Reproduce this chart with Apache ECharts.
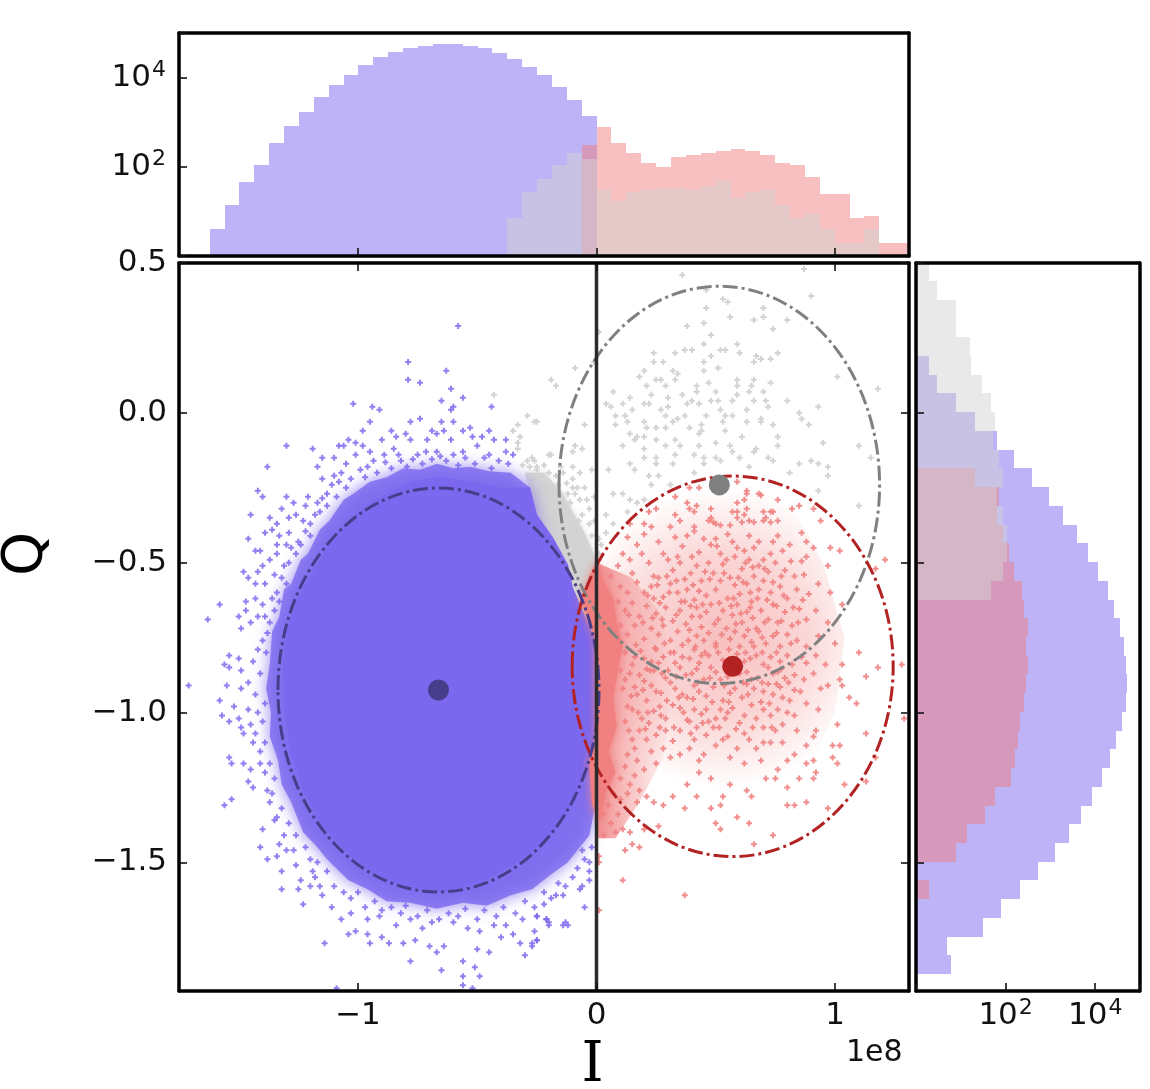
<!DOCTYPE html>
<html><head><meta charset="utf-8">
<style>html,body{margin:0;padding:0;background:#fff}#c{width:1150px;height:1089px}</style>
<script src="https://cdn.jsdelivr.net/npm/echarts@6/dist/echarts.min.js"></script>
</head><body><div id="c"></div>
<script>
// ---- histogram of I (top panel): counts per bin, first bin edge + bin width
const iBinWidth = 0.0624;
const iBlueStart = -1.622;
const iBlueCounts = [4,14,45,113,339,847,1690,3800,7080,11700,19200,29000,38900,48000,53200,59000,59000,53200,48000,35700,26200,17700,11700,6370,3200,1400];
const iGreyStart = -0.374;
const iGreyCounts = [7,27,55,113,206,151,30,17,27,30,33,33,30,37,51,20,27,30,14,7,9,4,2,2,4];
const iRedStart = -0.062;
const iRedCounts = [312,776,339,206,125,102,170,186,206,229,254,229,186,125,113,61,25,25,7,8,2,2];
// ---- histogram of Q (right panel): first bin top edge + bin width
const qBinWidth = 0.0625;
const qGreyStart = 0.502;
const qGreyCounts = [2,3,8,8,16,17,29,47,57,52,70,86,64,86,105,105,86,47];
const qBlueStart = 0.1895;
const qBlueCounts = [2,3,8,21,64,156,387,945,1900,3850,7000,11500,19200,25700,35000,43000,47700,52100,47700,38800,28500,21300,14100,8600,4700,2590,1290,526,213,79,32,5,6];
const qRedStart = -0.1855;
const qRedCounts = [21,71,64,86,117,156,236,261,321,290,321,290,261,213,192,159,129,58,35,14,8,0,2];
// ---- means and 2-sigma ellipses [I, Q, radius I, radius Q]
const blueEllipse = [-0.6625,-0.925,0.673,0.674];
const redEllipse = [0.571,-0.846,0.673,0.635];
const greyEllipse = [0.515,-0.2405,0.672,0.663];
const blueMean = [-0.6625,-0.925];
const redMean = [0.571,-0.846];
const greyMean = [0.515,-0.2405];
const zeroLine = [[0,0.5],[0,-1.93]];
// ---- regions too dense to resolve into single points: outline
const blueCore = [[-.665,-.213],[-.53,-.229],[-.392,-.249],[-.279,-.249],[-.249,-.34],[-.182,-.416],[-.119,-.507],[-.099,-.583],[-.019,-.73],[0,-.757],[0,-1.175],[-.019,-1.201],[-.069,-1.235],[-.111,-1.315],[-.208,-1.425],[-.333,-1.501],[-.488,-1.569],[-.644,-1.599],[-.782,-1.585],[-.92,-1.549],[-1.046,-1.469],[-1.159,-1.369],[-1.231,-1.258],[-1.285,-1.125],[-1.306,-1.001],[-1.315,-.834],[-1.298,-.724],[-1.277,-.674],[-1.231,-.583],[-1.172,-.507],[-1.088,-.396],[-.979,-.316],[-.866,-.263],[-.769,-.229]];
const blueFringe = [[-.36,-.2],[-.45,-.195],[-.53,-.18],[-.6,-.185],[-.669,-.17],[-.74,-.19],[-.81,-.185],[-.88,-.215],[-.95,-.23],[-1.02,-.27],[-1.06,-.29],[-1.12,-.36],[-1.16,-.39],[-1.21,-.47],[-1.24,-.49],[-1.28,-.57],[-1.31,-.59],[-1.33,-.68],[-1.36,-.73],[-1.37,-.84],[-1.385,-.92],[-1.365,-1.0],[-1.37,-1.08],[-1.335,-1.16],[-1.32,-1.24],[-1.28,-1.3],[-1.23,-1.4],[-1.17,-1.45],[-1.13,-1.49],[-1.04,-1.56],[-.96,-1.59],[-.88,-1.63],[-.78,-1.635],[-.67,-1.655],[-.56,-1.635],[-.46,-1.645],[-.36,-1.61],[-.27,-1.59],[-.19,-1.54],[-.12,-1.5],[-.03,-1.41],[0,-1.29],[0,-1.175],[-.279,-.249]];
const greyWedge = [[-.3,-.2],[-.22,-.2],[-.14,-.27],[-.1,-.33],[-.05,-.4],[0,-.49],[0,-.757],[-.027,-.707],[-.111,-.573],[-.182,-.423],[-.249,-.34]];
const redBand = [[0,-.49],[.03,-.56],[.07,-.62],[.085,-.7],[.11,-.78],[.09,-.86],[.07,-.95],[.085,-1.05],[.05,-1.13],[.08,-1.2],[.04,-1.26],[.015,-1.368],[-.019,-1.308],[-.031,-1.158],[-.006,-1.108],[-.006,-.757],[-.069,-.624]];
const redHaze = [[.12,-.3],[.3,-.24],[.55,-.2],[.8,-.28],[.95,-.5],[1.04,-.75],[1.0,-1.0],[.88,-1.2],[.6,-1.3],[.35,-1.3],[.12,-1.2],[.02,-.9],[.02,-.55]];
const redStrip = [[0,-.5],[.15,-.55],[.28,-.68],[.32,-.9],[.28,-1.15],[.18,-1.3],[.08,-1.42],[0,-1.42]];
// ---- resolved single shots
const bluePoints = [[-.58,.29],[-.79,.17],[-.63,.14],[-.79,.11],[-.74,.1],[-.61,.08],[-.56,.05],[-.65,.04],[-1.02,.03],[-.94,.02],[-.6,.02],[-.91,.01],[-.61,.01],[-.44,.02],[-.95,-.03],[-.98,-.06],[-.65,-.03],[-.74,-.02],[-.78,-.03],[-.6,-.03],[-.56,-.06],[-.53,-.05],[-.45,-.06],[-.64,-.06],[-.69,-.06],[-.67,-.07],[-.86,-.06],[-.84,-.08],[-.8,-.07],[-1.08,-.11],[-1.04,-.09],[-1.01,-.1],[-1.3,-.11],[-1.19,-.12],[-1.06,-.11],[-.98,-.11],[-.9,-.09],[-.48,-.08],[-.43,-.09],[-.38,-.09],[-.52,-.08],[-.61,-.09],[-.71,-.09],[-.78,-.09],[-.85,-.12],[-.89,-.14],[-.95,-.13],[-1.01,-.14],[-1.15,-.15],[-1.1,-.15],[-1.38,-.18],[-1.17,-.18],[-1.05,-.17],[-.96,-.18],[-1.42,-.26],[-1.4,-.28],[-1.3,-.28],[-1.1,-.21],[-1.15,-.22],[-1.08,-.23],[-.35,-.14],[-.38,-.13],[-.45,-.14],[-.5,-.11],[-.56,-.13],[-.67,-.13],[-.75,-.14],[-.82,-.16],[-1.27,-.3],[-1.21,-.28],[-1.17,-.3],[-1.32,-.32],[-1.45,-.34],[-1.37,-.35],[-1.26,-.34],[-1.22,-.31],[-1.13,-.27],[-1.11,-.24],[-1.29,-.35],[-1.39,-.4],[-1.36,-.39],[-1.34,-.37],[-1.46,-.42],[-1.43,-.46],[-1.41,-.46],[-1.34,-.44],[-1.33,-.41],[-1.29,-.4],[-1.23,-.36],[-1.2,-.37],[-1.16,-.33],[-1.48,-.53],[-1.46,-.55],[-1.42,-.53],[-1.4,-.51],[-1.37,-.49],[-1.34,-.47],[-1.31,-.51],[-1.28,-.45],[-1.24,-.44],[-1.43,-.57],[-1.39,-.57],[-1.35,-.54],[-1.3,-.57],[-1.47,-.63],[-1.43,-.62],[-1.4,-.64],[-1.58,-.64],[-1.63,-.69],[-1.5,-.68],[-1.47,-.66],[-1.49,-.72],[-1.45,-.7],[-1.42,-.68],[-1.39,-.68],[-1.35,-.66],[-1.33,-.63],
[-1.54,-.81],[-1.5,-.82],[-1.56,-.84],[-1.54,-.85],[-1.71,-.91],[-1.55,-.91],[-1.49,-.86],[-1.49,-.92],[-1.58,-.96],[-1.52,-.98],[-1.57,-1.01],[-1.46,-.99],[-1.54,-1.03],[-1.5,-1.02],[-1.49,-1.05],[-1.45,-1.04],[-1.48,-1.07],[-1.44,-1.1],[-1.54,-1.15],[-1.53,-1.17],[-1.48,-1.17],[-1.45,-1.19],[-1.41,-1.17],[-1.46,-1.23],[-1.44,-1.25],[-1.53,-1.29],[-1.56,-1.31],[-1.38,-1.26],[-1.37,-1.3],[-1.4,-1.39],[-1.35,-1.36],[-1.41,-1.45],[-1.38,-1.49],[-1.34,-1.48],[-1.3,-1.46],[-1.33,-1.44],[-1.32,-1.53],[-1.32,-1.59],[-1.26,-1.51],[-1.25,-1.59],[-1.24,-1.56],[-1.23,-1.64],[-1.2,-1.58],[-1.19,-1.53],[-1.15,-1.61],[-1.16,-1.58],[-1.14,-1.77],[-1.11,-1.65],[-1.07,-1.69],[-1.04,-1.74],[-1.01,-1.73],[-.95,-1.77],[-.96,-1.74],[-.9,-1.75],[-.87,-1.77],[-.81,-1.77],[-.78,-1.83],[-.76,-1.76],[-.7,-1.78],[-.67,-1.8],[-.65,-1.86],[-.64,-1.78],[-.56,-1.83],[-.56,-1.88],[-.56,-1.91],[-.52,-1.92],[-.49,-1.88],[-.51,-1.85],[-.5,-1.79],[-.45,-1.8],[-.32,-1.77],[-.3,-1.81],[-.27,-1.78],[-.25,-1.76],[-.21,-1.69],[-.13,-1.7],[-.35,-1.74],[-.4,-1.75],[-1.09,-1.92],[-.71,-1.93],[-1.03,-1.67],[-.96,-1.69],[-.91,-1.68],[-.84,-1.71],[-.78,-1.69],[-.73,-1.72],[-.69,-1.7],[-.6,-1.7],[-.54,-1.72],[-.49,-1.73],[-.43,-1.71],[-.38,-1.71],[-.31,-1.69],[-.25,-1.68],[-.2,-1.7],
[-.13,-1.58],[-.06,-1.58],[-.05,-1.65],[-.14,-1.61],[-.17,-1.61],[-.22,-1.64],[-.25,-1.68],[-.21,-1.69],[-.2,-1.71],[-.14,-1.71],[-.12,-1.71],[-.26,-1.73],[-.25,-1.76],[-.27,-1.77],[-.03,-1.53],[-.03,-1.56],[-.07,-1.59],
[-.37,-.17],[-.41,-.16],[-.44,-.185],[-.47,-.15],[-.51,-.17],[-.55,-.15],[-.58,-.175],[-.6,-.14],[-.63,-.16],[-.655,-.145],[-.69,-.155],[-.715,-.13],[-.73,-.17],[-.77,-.155],[-.795,-.18],[-.83,-.14],[-.86,-.185],[-.885,-.165],[-.92,-.2],[-.935,-.16],[-.97,-.215],[-.99,-.19],[-1.03,-.22],[-1.05,-.25],[-1.07,-.2],[-1.09,-.28],[-1.13,-.31],[-1.15,-.285],[-1.18,-.34],[-1.2,-.41],[-1.22,-.395],[-1.25,-.43],[-1.26,-.47],[-1.29,-.5],[-1.3,-.44],[-1.32,-.55],[-1.34,-.6],[-1.36,-.62],[-1.37,-.7],[-1.38,-.735],[-1.4,-.76],[-1.42,-.79],[-1.385,-.8],[-1.44,-.83],[-1.41,-.87],[-1.46,-.9],[-1.43,-.94],[-1.39,-.97],[-1.42,-1.0],[-1.4,-1.03],[-1.43,-1.07],[-1.39,-1.1],[-1.41,-1.13],[-1.37,-1.17],[-1.39,-1.2],[-1.35,-1.22],[-1.36,-1.27],[-1.32,-1.32],[-1.34,-1.35],[-1.29,-1.37],[-1.31,-1.41],[-1.26,-1.41],[-1.27,-1.46],[-1.22,-1.45],[-1.2,-1.49],[-1.17,-1.5],[-1.18,-1.55],[-1.13,-1.53],[-1.1,-1.58],[-1.06,-1.6],[-1.03,-1.62],[-1.0,-1.6],[-.97,-1.65],[-.93,-1.63],[-.9,-1.66],[-.86,-1.65],[-.82,-1.67],[-.8,-1.645],[-.75,-1.68],[-.71,-1.66],[-.66,-1.69],[-.62,-1.67],[-.58,-1.68],[-.55,-1.655],[-.5,-1.69],[-.47,-1.66],[-.42,-1.68],[-.39,-1.65],[-.34,-1.67],[-.3,-1.63],[-.26,-1.65],[-.22,-1.6],[-.19,-1.62],[-.16,-1.57],[-.1,-1.55],[-.08,-1.52],[-.05,-1.49],[-.02,-1.45],[-.06,-1.46],[-.03,-1.5]];
const greyPoints = [[.36,.46],[.87,.48],[.9,.39],[.46,.41],[.53,.38],[.55,.37],[.46,.35],[.7,.35],[.56,.32],[.66,.31],[.7,.32],[.8,.31],[.38,.29],[.45,.3],[.74,.28],[.48,.26],[.01,.27],[.59,.23],[.45,.23],[.52,.21],[.54,.21],[.37,.21],[.4,.21],[.33,.2],[.24,.2],[.6,.2],[.76,.2],[.67,.19],[.48,.19],[.24,.17],[.28,.17],[.45,.17],[.66,.17],[.69,.18],[.73,.18],[-.09,.15],[-.01,.17],[.2,.14],[.32,.14],[.34,.13],[.45,.14],[.51,.15],[.18,.12],[.33,.11],[-.19,.11],[-.17,.09],[.25,.11],[.27,.11],[.47,.1],[.59,.11],[.66,.11],[.73,.1],[1.01,.12],[.21,.09],[.29,.09],[.42,.09],[.59,.09],[.65,.09],[.07,.07],[.23,.06],[.36,.06],[.42,.07],[.5,.07],[.59,.06],[.64,.07],[.7,.07],[1.18,.08],[.14,.05],[.2,.03],[.22,.03],[.3,.05],[.4,.04],[.48,.04],[.51,.04],[.57,.04],[.66,.04],[.71,.04],[.8,.04],[.04,.03],[.06,.02],[.11,.03],[.15,.01],[.27,.01],[.3,.02],[.38,.03],[.43,.03],[.52,.01],[.63,.01],[.72,.02],[.93,.02],[.85,0],[.86,-.02],[.08,-.01],[.12,-.01],[.29,-.01],[.34,-.02],[.37,-.01],[.46,-.01],[.54,-.01],[.57,-.01],[.69,-.02],[.2,-.03],[-.26,-.03],[-.05,-.04],[.08,-.04],[.13,-.03],[.32,-.03],[.44,-.04],[.53,-.03],[.63,-.03],[.69,-.03],[.74,-.04],[.89,-.04],[.21,-.05],[.25,-.05],[.29,-.05],[.39,-.05],[.44,-.06],[.54,-.06],[.14,-.07],[.17,-.08],[.2,-.08],[.25,-.09],[.33,-.09],[.43,-.07],[.61,-.08],[.76,-.08],[.16,-.09],[.11,-.11],[-.09,-.11],[-.06,-.12],[.2,-.12],[.29,-.11],[.35,-.11],[.43,-.11],[.5,-.1],[.56,-.11],[.67,-.12],[.76,-.11],[.95,-.1],[1.1,-.11],[-.1,-.13],[-.2,-.14],[.2,-.15],[.25,-.15],[.33,-.14],[.41,-.14],[.45,-.15],[.5,-.15],[.57,-.13],[.6,-.15],[.66,-.13],[.72,-.15],[1.15,-.15],[.14,-.17],[.25,-.17],[.32,-.17],[.45,-.17],[.52,-.16],[.64,-.18],[.74,-.16],[.85,-.17],[.9,-.16],[.93,-.17],[.97,-.18],[.05,-.19],[.16,-.19],[.22,-.21],[.26,-.21],[.41,-.2],[.81,-.2],[.97,-.21],[.93,-.26],[-.07,-.2],[.07,-.27],[.11,-.27],[.23,-.24],[.31,-.24],[1.1,-.31],[.14,-.29],[.17,-.3],[.2,-.29],[.04,-.34],[.13,-.33],[.07,-.37],
[-.1,-.22],[-.1,-.18],[-.15,-.18],[-.08,-.25],[-.05,-.25],[-.12,-.27],[-.09,-.27],[-.18,-.27],[-.22,-.22],[-.25,-.18],[-.27,-.15],[-.02,-.19],[-.01,-.28],[-.03,-.32],[-.01,-.36],[.01,-.42],[.02,-.44],[.04,-.4],
[-.43,.06],[-.29,-.01],[-.25,-.03],[-.33,-.04],[-.35,-.06],[-.32,-.08],[-.33,-.1],[-.33,-.12],[-.19,-.14],[-.29,-.16],[-.26,-.16],
[-.31,-.175],[-.28,-.18],[-.25,-.19],[-.22,-.175],[-.2,-.2],[-.17,-.21],[-.14,-.2],[-.125,-.235],[-.16,-.24],[-.1,-.25],[-.07,-.29],[-.11,-.3],[-.06,-.34],[-.03,-.37],[-.02,-.41],[.01,-.47],[-.075,-.36],[-.04,-.29],[-.13,-.31]];
const redPoints = [[.59,-.23],[.39,-.25],[.43,-.25],[.63,-.26],[.68,-.27],[.76,-.29],[.33,-.28],[.25,-.32],[.22,-.33],[.38,-.3],[.42,-.31],[.48,-.32],[.59,-.3],[.57,-.33],[.63,-.32],[.7,-.33],[.73,-.33],[.82,-.32],[.85,-.31],[.94,-.36],[.91,-.32],[.2,-.37],[.23,-.38],[.31,-.38],[.35,-.36],[.41,-.38],[.48,-.35],[.5,-.37],[.59,-.35],[.64,-.36],[.7,-.36],[.76,-.36],[.86,-.4],[.14,-.37],
[.63,-.27],[.69,-.275],[.62,-.29],[.39,-.32],[.41,-.33],[.33,-.34],[.47,-.36],[.49,-.365],[.52,-.375],[.59,-.33],[.62,-.34],[.66,-.365],[.71,-.35],[.74,-.33],[.73,-.365],[.61,-.365],[.56,-.375],[.41,-.395],[.45,-.42],[.5,-.42],[.59,-.45],[.62,-.46],[.66,-.45],[.73,-.47],[.78,-.46],[.81,-.44],[.86,-.495],[.88,-.48],[.88,-.43],[.91,-.45],[.97,-.51],[.98,-.45],[1.02,-.46],[1.21,-.49],[1.17,-.52],
[.13,-.415],[.17,-.44],[.2,-.405],[.26,-.43],[.28,-.47],[.33,-.415],[.36,-.445],[.38,-.41],[.43,-.465],[.48,-.44],[.52,-.47],[.55,-.405],[.57,-.43],[.64,-.41],[.68,-.43],[.7,-.49],[.74,-.43],[.76,-.41],[.11,-.47],[.09,-.51],[.14,-.49],[.15,-.535],[.19,-.47],[.22,-.5],[.24,-.545],[.3,-.49],[.32,-.525],[.35,-.5],[.37,-.555],[.4,-.48],[.42,-.51],[.44,-.56],[.47,-.5],[.49,-.535],[.53,-.505],[.56,-.55],[.58,-.48],[.61,-.52],[.64,-.49],[.66,-.545],[.68,-.51],[.72,-.53],[.75,-.5],[.79,-.525],[.83,-.545],[.87,-.54],[.06,-.545],[.1,-.58],[.13,-.6],[.17,-.565],[.2,-.6],[.23,-.58],[.26,-.55],[.28,-.615],[.31,-.57],[.34,-.6],[.38,-.59],[.41,-.625],[.43,-.595],[.46,-.61],[.5,-.59],[.52,-.56],[.55,-.62],[.58,-.575],[.6,-.605],[.63,-.57],[.65,-.63],[.68,-.59],[.7,-.56],[.73,-.6],[.77,-.58],[.8,-.62],[.84,-.59],[.89,-.605],[.93,-.57],[.98,-.6],[1.03,-.64],
[.09,-.63],[.12,-.66],[.15,-.635],[.18,-.68],[.21,-.645],[.24,-.62],[.25,-.67],[.29,-.65],[.32,-.695],[.35,-.66],[.37,-.63],[.4,-.68],[.42,-.65],[.44,-.715],[.46,-.665],[.48,-.64],[.51,-.69],[.53,-.66],[.545,-.72],[.57,-.675],[.59,-.64],[.61,-.7],[.63,-.665],[.655,-.685],[.67,-.72],[.69,-.66],[.72,-.69],[.74,-.64],[.76,-.7],[.79,-.665],[.82,-.71],[.85,-.655],[.88,-.69],[.92,-.66],[.97,-.7],[.1,-.71],[.13,-.74],[.16,-.71],[.2,-.755],[.23,-.72],[.26,-.74],[.28,-.71],[.31,-.76],[.34,-.73],[.36,-.775],[.39,-.725],[.42,-.745],[.45,-.76],[.47,-.735],[.5,-.77],[.525,-.74],[.56,-.755],[.58,-.73],[.6,-.78],[.62,-.745],[.65,-.765],[.68,-.73],[.71,-.77],[.74,-.745],[.77,-.78],[.8,-.74],[.84,-.76],[.88,-.78],[.93,-.745],[1.0,-.77],
[.31,-.8],[.35,-.85],[.38,-.95],[.46,-.99],[.52,-.99],[.61,-.95],[.7,-.93],[.78,-.95],[.87,-.89],[.82,-.84],[.7,-.84],[.66,-.78],[.5,-.78],[.41,-.79],[.25,-.79],[.2,-.82],[.14,-.87],[.17,-.94],[.21,-.96],[.27,-1.01],[.29,-1.06],[.35,-1.06],[.42,-1.05],[.49,-1.05],[.55,-1.08],[.62,-1.07],[.67,-1.02],[.73,-1.01],[.8,-1],[.84,-1.06],[.78,-1.1],[.73,-1.1],[.67,-1.12],[.59,-1.12],[.5,-1.11],[.45,-1.14],[.35,-1.14],[.28,-1.12],[.21,-1.09],[.18,-1.06],[.13,-1.14],
[.12,-.8],[.16,-.815],[.23,-.83],[.28,-.815],[.33,-.835],[.39,-.82],[.43,-.835],[.47,-.81],[.53,-.825],[.59,-.805],[.62,-.83],[.73,-.815],[.77,-.83],[.86,-.815],[.92,-.81],[.1,-.86],[.18,-.875],[.24,-.86],[.29,-.885],[.4,-.87],[.45,-.89],[.5,-.865],[.55,-.88],[.6,-.87],[.65,-.89],[.74,-.87],[.79,-.885],[.91,-.87],[.11,-.92],[.23,-.91],[.27,-.935],[.33,-.92],[.43,-.93],[.49,-.915],[.56,-.935],[.66,-.92],[.74,-.94],[.83,-.925],[.13,-.98],[.24,-.995],[.32,-.975],[.41,-.99],[.57,-.985],[.65,-.975],[.76,-.99],[.88,-.97],[.12,-1.03],[.22,-1.035],[.38,-1.025],[.47,-1.03],[.54,-1.02],[.6,-1.035],[.7,-1.05],[.78,-1.04],[.15,-1.09],[.25,-1.075],[.32,-1.095],[.41,-1.09],[.46,-1.075],[.64,-1.09],[.7,-1.1],[.12,-1.18],[.17,-1.16],[.2,-1.19],[.25,-1.17],[.1,-1.22],[.16,-1.21],[.07,-1.27],[.1,-1.29],[.05,-1.31],
[.15,-.84],[.21,-.855],[.26,-.835],[.3,-.86],[.36,-.815],[.42,-.855],[.44,-.81],[.48,-.85],[.52,-.89],[.58,-.85],[.63,-.865],[.67,-.81],[.72,-.85],[.76,-.865],[.8,-.81],[.83,-.875],[.88,-.835],[.12,-.89],[.16,-.915],[.2,-.895],[.25,-.93],[.31,-.9],[.36,-.94],[.41,-.91],[.46,-.945],[.53,-.96],[.58,-.92],[.63,-.905],[.69,-.965],[.72,-.905],[.77,-.915],[.81,-.96],[.15,-.99],[.19,-1.02],[.29,-1.02],[.35,-.985],[.39,-1.03],[.44,-1.005],[.5,-1.02],[.55,-1.0],[.62,-1.01],[.7,-.99],[.75,-1.06],[.83,-1.01],[.16,-1.12],[.23,-1.13],[.31,-1.15],[.39,-1.12],[.43,-1.16],[.56,-1.15],[.62,-1.17],[.69,-1.16],[.13,-1.27],[.17,-1.3],[.09,-1.34],[.06,-1.37],[.03,-1.34],
[.34,-.48],[.395,-.535],[.455,-.53],[.505,-.445],[.545,-.49],[.595,-.55],[.625,-.5],[.655,-.515],[.705,-.52],[.74,-.565],[.775,-.545],[.815,-.495],[.255,-.575],[.295,-.545],[.335,-.56],[.405,-.575],[.475,-.555],[.535,-.535],[.575,-.62],[.615,-.565],[.645,-.6],[.715,-.625],[.755,-.645],[.785,-.61],[.825,-.65],[.865,-.625],[.215,-.61],[.265,-.635],[.305,-.6],[.355,-.63],[.395,-.645],[.445,-.64],[.515,-.635],[.565,-.645],[.605,-.67],[.645,-.65],[.675,-.62],[.705,-.7],[.775,-.695],[.845,-.7],[.135,-.675],[.195,-.7],[.235,-.685],[.275,-.69],[.335,-.675],[.375,-.705],[.435,-.68],[.495,-.705],[.585,-.705],[.635,-.725],[.695,-.75],[.755,-.735],[.815,-.77],[.165,-.775],[.245,-.785],[.285,-.77],[.325,-.8],[.385,-.76],[.415,-.78],[.455,-.8],[.51,-.8],[.555,-.79],[.625,-.8],[.645,-.82],[.695,-.8],[.755,-.8],[.775,-.855],[.185,-.795],[.225,-.86],[.275,-.87],[.335,-.88],[.375,-.875],[.425,-.9],[.475,-.885],[.535,-.91],[.615,-.9],[.675,-.885],[.695,-.9],[.755,-.905],[.805,-.9],[.855,-.93],[.195,-.925],[.295,-.96],[.345,-.95],[.405,-.955],[.485,-.965],[.555,-.965],[.635,-.94],[.725,-.97],[.145,-.945],[.215,-1.0],[.265,-.98],[.365,-1.0],[.445,-1.035],[.515,-1.05],[.585,-1.055],[.655,-1.05],[.735,-1.05],[.175,-1.0],[.135,-1.06],[.205,-1.055],[.265,-1.05],[.325,-1.05],[.395,-1.07],[.53,-1.09],
[1.29,-1.02],[1.28,-.84],[1.18,-.85],[1.03,-.84],[1.1,-.8],[.96,-.84],[1.13,-.88],[1.02,-.89],[1.03,-.91],[1.06,-.95],[1.09,-.97],[.94,-.92],[.97,-.91],[.93,-.99],[1.01,-1.04],[1.13,-1.07],[.92,-1.06],[.99,-1.11],[1.02,-1.11],[.99,-1.15],[1.01,-1.17],[1.17,-1.15],[.88,-1.11],[.91,-1.08],[.83,-1.14],[.91,-1.16],[.88,-1.17],[.8,-1.16],[.76,-1.19],[.71,-1.22],[.92,-1.2],[.91,-1.22],[1.04,-1.24],[1.13,-1.23],[.85,-1.22],[.8,-1.25],[.75,-1.22],[.65,-1.28],[.63,-1.26],[.56,-1.24],[.48,-1.22],[.43,-1.2],[.38,-1.24],[.42,-1.28],[.32,-1.28],[.53,-1.28],[.52,-1.31],[.48,-1.32],[.8,-1.31],[.83,-1.31],[.88,-1.3],[.97,-1.32],[.37,-1.32],[.28,-1.31],[.24,-1.3],[.21,-1.28],[.18,-1.26],[.14,-1.24],[.59,-1.35],[.64,-1.37],[.5,-1.37],[.52,-1.39],[.74,-1.41],[.66,-1.44],[.26,-1.38],[.2,-1.39],[.14,-1.4],[.11,-1.39],[.08,-1.4],[.03,-1.41],[.15,-1.44],[.18,-1.45],[.12,-1.46],[.01,-1.48],[.01,-1.5],[.11,-1.56],[.37,-1.61],[.01,-1.66]];
// ---- tick labels
const iTicks = [-1,0,1];
const qTicks = [-1.5,-1,-0.5,0,0.5];
const iRange = [-1.7505,1.3103];
const qRange = [-1.9295,0.5];
const topCountMax = 102600;
const rightCountMax = 97500;

const INK='#000', FONT='"DejaVu Sans"';
const cBlue='#7B68EE', cRed='#F08080', cGrey='#D3D3D3';
const plus='path://M2 0H4V2H6V4H4V6H2V4H0V2H2Z';
const minus=s=>String(s).replace('-','\u2212');

function axis(o){
  return Object.assign({z:10,silent:true,splitLine:{show:false},
    axisLine:{show:true,onZero:false,lineStyle:{color:INK,width:3.5}},
    axisTick:{show:false},axisLabel:{show:false}},o);
}
const ticksAt=v=>({show:true,inside:true,length:8,customValues:v,lineStyle:{color:'#111',width:1.6}});
const logTicks={show:true,inside:true,length:8,lineStyle:{color:'#111',width:1.6}};
const labels=(v,f,m)=>({show:true,customValues:v,formatter:f,margin:m,fontFamily:FONT,fontSize:31,color:'#111',hideOverlap:false});
const logLabels=(m)=>({show:true,margin:m,hideOverlap:false,color:'#111',
  formatter:v=>{const r=Math.round(Math.log10(v));return (r===2||r===4)&&Math.abs(Math.log10(v)-r)<1e-6?`{b|10}{s|${r}}`:'';},
  rich:{b:{fontFamily:FONT,fontSize:31,lineHeight:38,color:'#111'},s:{fontFamily:FONT,fontSize:22,lineHeight:38,verticalAlign:'top',color:'#111',padding:[0,0,0,1]}}});

const topBars=(start,counts)=>counts.map((c,i)=>[start+i*iBinWidth,start+(i+1)*iBinWidth,c]);
const rightBars=(start,counts)=>counts.map((c,i)=>[c,start-i*qBinWidth,start-(i+1)*qBinWidth]);

function topSeries(data,fill){return {type:'custom',xAxisIndex:2,yAxisIndex:2,silent:true,clip:true,data,z:2,
  encode:{x:[0,1],y:2},
  renderItem:(p,api)=>{const a=api.coord([api.value(0),api.value(2)]),b=api.coord([api.value(1),1]);
    const x0=Math.round(a[0]),x1=Math.round(b[0]),y0=Math.round(a[1]),y1=Math.round(b[1]);
    return {type:'rect',shape:{x:x0,y:y0,width:x1-x0,height:y1-y0},style:{fill}};}};}
function rightSeries(data,fill){return {type:'custom',xAxisIndex:4,yAxisIndex:4,silent:true,clip:true,z:2,
  data:data.filter(d=>d[0]>0),encode:{x:0,y:[1,2]},
  renderItem:(p,api)=>{const a=api.coord([1,api.value(1)]),b=api.coord([api.value(0),api.value(2)]);
    const x0=Math.round(a[0]),x1=Math.round(b[0]),y0=Math.round(a[1]),y1=Math.round(b[1]);
    return {type:'rect',shape:{x:x0,y:y0,width:x1-x0,height:y1-y0},style:{fill}};}};}
function region(outline,fill,opacity,z,blur,blurColor){return {type:'custom',xAxisIndex:0,yAxisIndex:0,silent:true,clip:true,z,data:[outline[0]],
  renderItem:(p,api)=>({type:'polygon',shape:{points:outline.map(q=>api.coord(q))},style:{fill,opacity,shadowBlur:blur||0,shadowColor:blurColor||'transparent'}})};}
function cloud(data,color,opacity,z){return {type:'scatter',xAxisIndex:0,yAxisIndex:0,silent:true,clip:true,z,data,symbol:plus,symbolSize:6,
  itemStyle:{color,opacity},large:false,animation:false};}
function ring(e,color,z){return {type:'custom',xAxisIndex:0,yAxisIndex:0,silent:true,clip:true,z,data:[e],
  renderItem:(p,api)=>{const c=api.coord([api.value(0),api.value(1)]),s=api.size([api.value(2),api.value(3)]);
    return {type:'ellipse',shape:{cx:c[0],cy:c[1],rx:s[0],ry:s[1]},style:{fill:'none',stroke:color,lineWidth:3,lineDash:[15,4,3,4]}};}};}
function mean(p,color){return {type:'scatter',xAxisIndex:0,yAxisIndex:0,silent:true,z:8,data:[p],symbol:'circle',symbolSize:21,itemStyle:{color,opacity:1}};}

const hazeFill={type:'radial',x:.5,y:.5,r:.62,colorStops:[{offset:0,color:'rgba(240,128,128,0.5)'},{offset:.55,color:'rgba(240,128,128,0.32)'},{offset:1,color:'rgba(240,128,128,0)'}]};
const stripFill={type:'linear',x:0,y:0,x2:1,y2:0,colorStops:[{offset:0,color:'rgba(240,128,128,0.9)'},{offset:.45,color:'rgba(240,128,128,0.45)'},{offset:1,color:'rgba(240,128,128,0)'}]};

const option={
  animation:false,backgroundColor:'#fff',textStyle:{fontFamily:FONT},
  grid:[
    {left:179,top:263,width:730,height:728,outerBoundsMode:'none'},
    {left:179,top:33,width:730,height:223,outerBoundsMode:'none'},
    {left:916,top:263,width:223.5,height:728,outerBoundsMode:'none'}
  ],
  xAxis:[
    axis({gridIndex:0,type:'value',position:'bottom',min:iRange[0],max:iRange[1],axisTick:ticksAt(iTicks),
      axisLabel:labels(iTicks,v=>minus(v),9)}),
    axis({gridIndex:0,type:'value',position:'top',min:iRange[0],max:iRange[1],axisTick:ticksAt(iTicks)}),
    axis({gridIndex:1,type:'value',position:'bottom',min:iRange[0],max:iRange[1],axisTick:ticksAt(iTicks)}),
    axis({gridIndex:1,type:'value',position:'top',min:0,max:1}),
    axis({gridIndex:2,type:'log',logBase:100,position:'bottom',min:1,max:rightCountMax,axisTick:logTicks,axisLabel:logLabels(6)}),
    axis({gridIndex:2,type:'value',position:'top',min:0,max:1})
  ],
  yAxis:[
    axis({gridIndex:0,type:'value',position:'left',min:qRange[0],max:qRange[1],axisTick:ticksAt(qTicks),
      axisLabel:labels(qTicks,v=>minus(v.toFixed(1)),12)}),
    axis({gridIndex:0,type:'value',position:'right',min:qRange[0],max:qRange[1],axisTick:ticksAt(qTicks)}),
    axis({gridIndex:1,type:'log',logBase:100,position:'left',min:1,max:topCountMax,axisTick:logTicks,axisLabel:logLabels(13)}),
    axis({gridIndex:1,type:'value',position:'right',min:0,max:1}),
    axis({gridIndex:2,type:'value',position:'left',min:qRange[0],max:qRange[1],axisTick:ticksAt(qTicks)}),
    axis({gridIndex:2,type:'value',position:'right',min:0,max:1})
  ],
  graphic:[
    {type:'text',x:846,y:1038,z:20,style:{text:'1e8',font:'30px "DejaVu Sans"',fill:'#111'}},
    {type:'text',x:592.5,y:1066,z:20,style:{text:'I',font:'56px "DejaVu Serif"',fill:'#000',textAlign:'center',textVerticalAlign:'middle'}},
    {type:'text',x:26,y:554,z:20,rotation:Math.PI/2,style:{text:'Q',font:'56px "DejaVu Sans"',fill:'#000',textAlign:'center',textVerticalAlign:'middle'}}
  ],
  series:[
    region(greyWedge,cGrey,0.95,2,6,cGrey),
    cloud(greyPoints,cGrey,1,3),
    region(blueFringe,cBlue,0.8,3,16,cBlue),
    cloud(bluePoints,cBlue,0.85,4),
    region(blueCore,cBlue,1,4),
    region(redHaze,hazeFill,1,4),
    region(redStrip,stripFill,1,4),
    region(redBand,cRed,0.95,5,8,cRed),
    cloud(redPoints,cRed,0.9,5),
    ring(greyEllipse,'#808080',6),
    ring(redEllipse,'#B22222',6),
    ring(blueEllipse,'#483D8B',6),
    {type:'line',xAxisIndex:0,yAxisIndex:0,silent:true,z:7,data:zeroLine,symbol:'none',lineStyle:{color:'#2b2b2b',width:3.5}},
    mean(greyMean,'#808080'),mean(redMean,'#B22222'),mean(blueMean,'#483D8B'),
    topSeries(topBars(iBlueStart,iBlueCounts),'rgba(123,104,238,0.5)'),
    topSeries(topBars(iRedStart,iRedCounts),'rgba(240,128,128,0.5)'),
    topSeries(topBars(iGreyStart,iGreyCounts),'rgba(211,211,211,0.5)'),
    rightSeries(rightBars(qBlueStart,qBlueCounts),'rgba(123,104,238,0.5)'),
    rightSeries(rightBars(qRedStart,qRedCounts),'rgba(240,128,128,0.5)'),
    rightSeries(rightBars(qGreyStart,qGreyCounts),'rgba(211,211,211,0.5)')
  ]
};
echarts.init(document.getElementById('c'),null,{renderer:'canvas'}).setOption(option);
</script></body></html>
